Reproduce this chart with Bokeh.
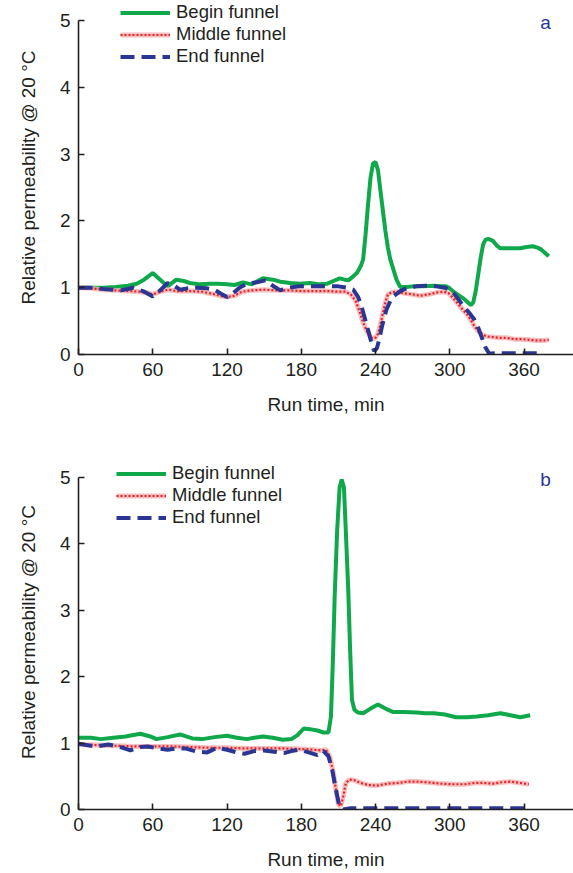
import numpy as np
from bokeh.plotting import figure
from bokeh.layouts import column
from bokeh.models import Legend, LegendItem, Label, FixedTicker, Range1d
from bokeh.embed import file_html
from bokeh.resources import INLINE

# ---------------- Panel a data ----------------
a_begin_t = [0, 10, 20, 30, 40, 47, 53, 60, 66, 72, 79, 85, 90, 98, 106, 113, 120, 126, 133, 140,
             149, 157, 163, 171, 179, 187, 195, 201, 206, 211, 215, 218, 222, 225, 228, 230, 232,
             234, 236, 238, 240, 242, 244, 246, 248, 250, 252, 254, 257, 260, 265, 270, 278, 287,
             293, 297, 300, 303, 307, 311, 314, 317, 319, 321, 323, 325, 327, 329, 331, 335, 338,
             341, 345, 351, 357, 362, 367, 371, 374, 377, 380]
a_begin_v = [1.0, 1.0, 1.0, 1.01, 1.03, 1.06, 1.12, 1.22, 1.12, 1.02, 1.12, 1.1, 1.07, 1.05, 1.06,
             1.06, 1.05, 1.04, 1.08, 1.05, 1.14, 1.12, 1.09, 1.07, 1.06, 1.07, 1.05, 1.06, 1.10,
             1.14, 1.12, 1.11, 1.17, 1.22, 1.32, 1.42, 1.80, 2.25, 2.65, 2.86, 2.88, 2.76, 2.45,
             2.15, 1.85, 1.60, 1.42, 1.30, 1.12, 1.01, 1.01, 1.02, 1.02, 1.03, 1.02, 1.02, 0.99,
             0.94, 0.89, 0.84, 0.79, 0.74, 0.78, 0.95, 1.2, 1.45, 1.65, 1.72, 1.73, 1.70, 1.63,
             1.59, 1.59, 1.59, 1.59, 1.61, 1.62, 1.60, 1.57, 1.52, 1.47]

a_mid_t = [0, 10, 20, 30, 40, 50, 56, 60, 66, 72, 80, 90, 100, 110, 116, 120, 126, 132, 140, 150,
           160, 170, 180, 190, 200, 210, 216, 220, 224, 227, 230, 233, 236, 238, 240, 242, 244,
           246, 248, 250, 253, 257, 262, 270, 276, 283, 290, 295, 299, 303, 307, 311, 314, 317,
           320, 323, 326, 330, 335, 340, 346, 352, 358, 364, 370, 376, 380]
a_mid_v = [1.0, 0.99, 0.97, 0.96, 0.95, 0.94, 0.92, 0.9, 0.94, 0.97, 0.95, 0.95, 0.94, 0.9, 0.87,
           0.86, 0.88, 0.94, 0.96, 0.97, 0.96, 0.96, 0.95, 0.95, 0.95, 0.94, 0.94, 0.9, 0.8, 0.65,
           0.48, 0.35, 0.26, 0.24, 0.25, 0.31, 0.45, 0.62, 0.78, 0.9, 0.93, 0.94, 0.92, 0.9, 0.88,
           0.9, 0.93, 0.94, 0.92, 0.84, 0.75, 0.66, 0.6, 0.52, 0.42, 0.35, 0.3, 0.27, 0.26, 0.25,
           0.25, 0.23, 0.23, 0.22, 0.21, 0.21, 0.22]

a_end_t = [0, 10, 20, 28, 34, 40, 44, 52, 60, 66, 72, 78, 82, 88, 96, 104, 110, 116, 120, 125,
           130, 136, 144, 151, 157, 163, 170, 178, 186, 194, 202, 210, 217, 222, 226, 229, 232,
           235, 237, 239, 241, 243, 245, 247, 249, 252, 255, 260, 265, 273, 281, 289, 296, 300,
           304, 308, 312, 316, 320, 323, 326, 329, 332, 336, 345, 355, 365, 375]
a_end_v = [1.0, 1.0, 0.98, 0.97, 0.96, 0.98, 1.0, 0.95, 0.87, 0.96, 1.07, 1.02, 0.97, 0.99, 1.0,
           0.99, 0.97, 0.9, 0.86, 0.92, 1.0, 1.06, 1.08, 1.11, 1.03, 0.96, 1.0, 1.02, 1.02, 1.02,
           1.02, 1.02, 1.0, 0.97, 0.86, 0.7, 0.5, 0.3, 0.15, 0.05, 0.09, 0.22, 0.4, 0.55, 0.68,
           0.8, 0.88, 0.95, 0.99, 1.02, 1.03, 1.02, 1.0, 0.97, 0.9, 0.8, 0.7, 0.62, 0.52, 0.4,
           0.25, 0.1, 0.01, 0.02, 0.02, 0.02, 0.02, 0.02]

# ---------------- Panel b data ----------------
b_begin_t = [0, 10, 18, 28, 38, 50, 58, 63, 72, 82, 92, 100, 110, 120, 128, 136, 142, 149, 157,
             165, 172, 177, 182, 187, 193, 198, 202, 204, 205.5, 207, 209, 211, 212.7, 214.5, 216,
             218, 219.5, 221, 223, 226, 230, 236, 242, 248, 254, 263, 273, 280, 287, 296, 305,
             314, 322, 331, 341, 349, 357, 365]
b_begin_v = [1.08, 1.08, 1.06, 1.08, 1.1, 1.14, 1.1, 1.06, 1.09, 1.13, 1.07, 1.06, 1.09, 1.11,
             1.08, 1.06, 1.08, 1.1, 1.08, 1.05, 1.06, 1.12, 1.22, 1.21, 1.19, 1.16, 1.16, 1.4, 2.2,
             3.2, 4.2, 4.85, 4.97, 4.85, 4.2, 3.3, 2.4, 1.65, 1.5, 1.46, 1.45, 1.52, 1.58, 1.52,
             1.47, 1.47, 1.46, 1.45, 1.45, 1.43, 1.39, 1.39, 1.40, 1.42, 1.45, 1.42, 1.39, 1.42]

b_mid_t = [0, 15, 30, 45, 60, 75, 90, 105, 120, 135, 150, 165, 180, 190, 196, 200, 203, 206, 208,
           210, 212, 214, 216, 219, 223, 228, 234, 241, 250, 258, 266, 273, 281, 292, 302, 312,
           320, 327, 335, 342, 349, 357, 364]
b_mid_v = [0.98, 0.97, 0.96, 0.95, 0.95, 0.95, 0.94, 0.93, 0.93, 0.92, 0.92, 0.92, 0.91, 0.9,
           0.89, 0.9, 0.8, 0.55, 0.3, 0.08, 0.05, 0.2, 0.4, 0.45, 0.44, 0.4, 0.37, 0.36, 0.39,
           0.4, 0.42, 0.42, 0.41, 0.39, 0.38, 0.38, 0.4, 0.4, 0.39, 0.41, 0.42, 0.4, 0.38]

b_end_t = [0, 10, 18, 24, 34, 42, 50, 56, 64, 72, 80, 86, 96, 104, 112, 120, 128, 134, 142, 150,
           158, 166, 172, 178, 186, 193, 198, 202, 205, 208, 211, 214, 220, 240, 260, 280, 300,
           320, 340, 360]
b_end_v = [0.99, 0.96, 0.96, 0.98, 0.94, 0.89, 0.94, 0.95, 0.92, 0.9, 0.92, 0.92, 0.87, 0.86,
           0.93, 0.9, 0.86, 0.84, 0.88, 0.89, 0.87, 0.85, 0.88, 0.9, 0.86, 0.82, 0.88, 0.80, 0.6,
           0.3, 0.03, 0.0, 0.02, 0.02, 0.02, 0.02, 0.02, 0.02, 0.02, 0.02]

x_ticks = [0, 60, 120, 180, 240, 300, 360]
y_ticks = [0, 1, 2, 3, 4, 5]
series_labels = ["Begin funnel", "Middle funnel", "End funnel"]
panel_letters = ["a", "b"]

FONT = "Liberation Sans"
INK = "#231f20"
GREEN = "#0fa84a"
RED = "#e8202a"
PINK = "#f5aaaa"
BLUE = "#2b3694"


def make_panel(h, frame_h, y_top, data, letter, leg_x, leg_y, let_y):
    bottom = h - frame_h
    p = figure(width=573, height=h, output_backend="svg", toolbar_location=None,
               x_range=Range1d(0, 400), y_range=Range1d(0, y_top),
               min_border_left=78, min_border_right=0, min_border_top=0,
               min_border_bottom=bottom)
    p.outline_line_color = None
    p.grid.visible = False
    p.background_fill_color = "white"
    p.border_fill_color = "white"

    (bt, bv), (mt, mv), (et, ev) = data
    g = p.line(bt, bv, line_color=GREEN, line_width=4)
    m1 = p.line(mt, mv, line_color=PINK, line_width=5, line_alpha=0.75)
    m2 = p.line(mt, mv, line_color=RED, line_width=2.2, line_dash="2 2")
    e = p.line(et, ev, line_color=BLUE, line_width=4, line_dash="14 7")

    for ax in (p.xaxis[0], p.yaxis[0]):
        ax.axis_line_color = INK
        ax.axis_line_width = 1.6
        ax.major_tick_line_color = INK
        ax.major_tick_line_width = 1.6
        ax.major_tick_in = 6
        ax.major_tick_out = 0
        ax.minor_tick_line_color = None
        ax.major_label_text_font = FONT
        ax.major_label_text_font_size = "19px"
        ax.major_label_text_color = INK
        ax.axis_label_text_font = FONT
        ax.axis_label_text_font_size = "19px"
        ax.axis_label_text_font_style = "normal"
        ax.axis_label_text_color = INK

    p.yaxis.bounds = (0, 5)
    p.xaxis.ticker = FixedTicker(ticks=x_ticks)
    p.yaxis.ticker = FixedTicker(ticks=y_ticks)
    p.xaxis.axis_label = "Run time, min"
    p.yaxis.axis_label = "Relative permeability @ 20 \u00b0C"
    p.xaxis.major_label_standoff = 8
    p.xaxis.axis_label_standoff = 15
    p.yaxis.major_label_standoff = 8
    p.yaxis.axis_label_standoff = 18

    legend = Legend(items=[LegendItem(label=series_labels[0], renderers=[g]),
                           LegendItem(label=series_labels[1], renderers=[m1, m2]),
                           LegendItem(label=series_labels[2], renderers=[e])],
                    location=(leg_x, leg_y), orientation="vertical",
                    glyph_width=50, glyph_height=21, label_height=21, spacing=0,
                    padding=0, margin=0, label_standoff=6,
                    label_text_font=FONT, label_text_font_size="18.5px",
                    label_text_color=INK, border_line_color=None,
                    background_fill_alpha=0)
    p.add_layout(legend, "center")

    lab = Label(x=467, y=let_y, x_units="screen", y_units="screen", text=letter,
                text_font=FONT, text_font_size="19px", text_color=BLUE,
                text_align="center", text_baseline="middle")
    p.add_layout(lab)
    return p


# panel a: frame 0..354 px on canvas, value 5 sits at 20 px from top
pa = make_panel(454, 354, 5 * 354 / 334,
                [(a_begin_t, a_begin_v), (a_mid_t, a_mid_v), (a_end_t, a_end_v)],
                panel_letters[0], 42, 287, 332)
# panel b: frame 355 px, value 5 sits 23 px below its top
pb = make_panel(418, 355, 5 * 355 / 332,
                [(b_begin_t, b_begin_v), (b_mid_t, b_mid_v), (b_end_t, b_end_v)],
                panel_letters[1], 38, 281, 330)

layout = column(pa, pb, spacing=0)
open("out.html", "w").write(file_html(layout, INLINE))
